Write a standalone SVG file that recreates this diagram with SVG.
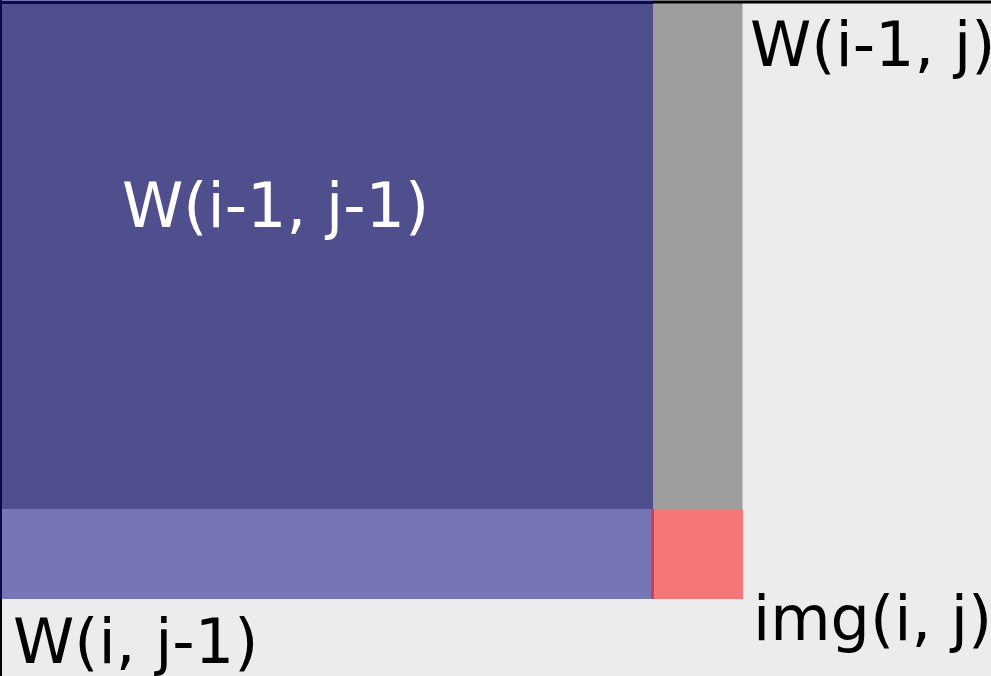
<svg xmlns="http://www.w3.org/2000/svg" width="991" height="676" viewBox="0 0 991 676">
<style>
.lbl{font-family:"DejaVu Sans",sans-serif;font-size:62px;fill:#000}
</style>
<rect x="0" y="0" width="991" height="676" fill="#ececec"/>
<g id="prev-row">
<rect x="2" y="3" width="651" height="506" fill="#4f4f8e"/>
</g>
<g id="col">
<rect x="653" y="3" width="89" height="506" fill="#9e9e9e"/>
<line x1="742.5" y1="3" x2="742.5" y2="509" stroke="#c8c8c8" stroke-width="1"/>
</g>
<g id="row">
<rect x="2" y="509" width="650" height="90" fill="#7776b4"/>
</g>
<g id="pixel">
<rect x="651" y="509" width="92" height="90" fill="#f57676"/>
<rect x="651" y="509" width="3" height="90" fill="#c8405e"/>
</g>
<g id="borders">
<line x1="0" y1="2" x2="991" y2="2" stroke="#000" stroke-width="3"/>
<line x1="0" y1="0" x2="653" y2="0" stroke="#7575b5" stroke-width="2"/>
<line x1="0" y1="2.5" x2="653" y2="2.5" stroke="#0a0a4a" stroke-width="3"/>
<line x1="1" y1="0" x2="1" y2="676" stroke="#000" stroke-width="2"/>
<line x1="1" y1="0" x2="1" y2="599" stroke="#0a0a4a" stroke-width="2"/>
</g>
<g id="labels">
<text class="lbl" x="750" y="66">W(i-1, j)</text>
<text class="lbl" x="122" y="227" style="fill:#fff">W(i-1, j-1)</text>
<text class="lbl" x="13" y="663">W(i, j-1)</text>
<text class="lbl" x="753" y="640">img(i, j)</text>
</g>
</svg>
